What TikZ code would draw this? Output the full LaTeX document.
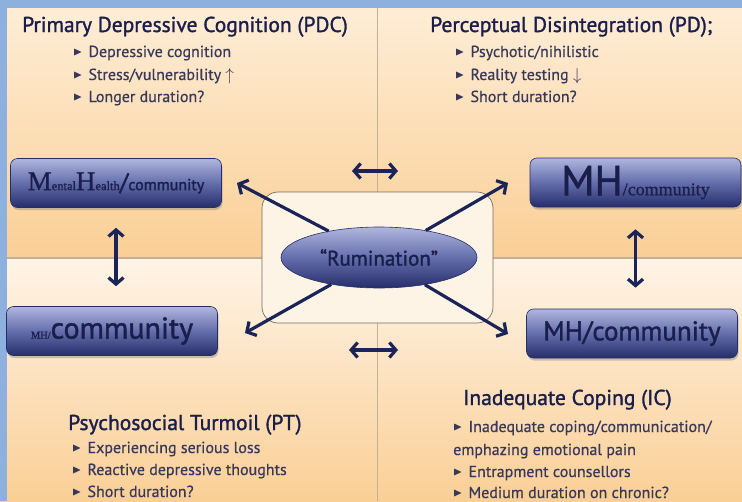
\documentclass[tikz,border=0pt]{standalone}
\usepackage{amssymb}
\usepackage{fontspec}
\setmainfont{PT Sans}
\newfontfamily\headfont[FakeBold=1.4]{PT Sans}
\newfontfamily\itemfont[FakeBold=0.6]{PT Sans}
\newfontfamily\boxfont[FakeBold=1.5]{PT Sans}
\newfontfamily\capfont[FakeBold=0.9]{Liberation Serif}
\usetikzlibrary{arrows.meta,shadows,shapes.geometric}

\definecolor{navy}{RGB}{26,30,74}
\definecolor{itemtext}{RGB}{56,56,90}
\definecolor{arrowblue}{RGB}{27,36,88}
\definecolor{boxtop}{RGB}{176,182,222}
\definecolor{boxmid}{RGB}{100,110,172}
\definecolor{boxbot}{RGB}{38,46,106}
\definecolor{peachlight}{RGB}{254,237,214}
\definecolor{peachdeep}{RGB}{250,207,150}
\definecolor{stripblue}{RGB}{142,176,222}
\definecolor{divline}{RGB}{196,176,150}
\definecolor{panelfill}{RGB}{254,244,230}

\newcommand{\bul}{\raisebox{1.5pt}{\scalebox{0.75}{$\blacktriangleright$}}\hspace{6pt}}
\newcommand{\fs}[1]{\fontsize{#1}{#1}\selectfont}

\tikzset{
  mhbox/.style={rounded corners=7pt, draw=boxbot, line width=0.6pt,
    top color=boxtop, bottom color=boxbot, middle color=boxmid,
    minimum width=211pt, minimum height=49pt, inner sep=0pt, text=navy,
    drop shadow={shadow xshift=1pt, shadow yshift=-2.5pt, opacity=0.4}},
  title/.style={anchor=base west, inner sep=0pt, text=navy, font=\headfont\fs{21.5}},
  item/.style={anchor=base west, inner sep=0pt, text=itemtext, font=\itemfont\fs{16}},
  arr/.style={draw=arrowblue, line width=3.2pt,
    -{Straight Barb[length=7pt,width=16pt]}},
  dbl/.style={draw=arrowblue, line width=3.2pt,
    {Straight Barb[length=6.5pt,width=15pt]}-{Straight Barb[length=6.5pt,width=15pt]}}
}

\begin{document}
\begin{tikzpicture}[x=1pt,y=1pt]
\useasboundingbox (0,0) rectangle (742,-501);

% background quadrants
\fill[top color=peachlight, bottom color=peachdeep] (0,-8) rectangle (742,-258);
\fill[top color=peachlight!60!white, bottom color=peachdeep] (0,-258) rectangle (742,-501);
\fill[stripblue] (0,0) rectangle (742,-8);
\fill[stripblue] (0,0) rectangle (7,-501);
\draw[divline, line width=1pt] (377,-8) -- (377,-501);
\draw[divline, line width=1.2pt] (7,-258) -- (742,-258);

% quadrant texts
\node[title] (pdc) at (22,-32) {Primary Depressive Cognition (PDC)};
\node[item] (pdc1) at (73,-57) {\bul Depressive cognition};
\node[item] (pdc2) at (73,-80) {\bul Stress/vulnerability $\uparrow$};
\node[item] (pdc3) at (73,-102) {\bul Longer duration?};

\node[title] (pd) at (430,-32) {Perceptual Disintegration (PD);};
\node[item] (pd1) at (455,-57) {\bul Psychotic/nihilistic};
\node[item] (pd2) at (455,-80) {\bul Reality testing $\downarrow$};
\node[item] (pd3) at (455,-102) {\bul Short duration?};

\node[title] (pt) at (68,-430) {Psychosocial Turmoil (PT)};
\node[item] (pt1) at (72,-453) {\bul Experiencing serious loss};
\node[item] (pt2) at (72,-475) {\bul Reactive depressive thoughts};
\node[item] (pt3) at (72,-497) {\bul Short duration?};

\node[title] (ic) at (463,-405) {Inadequate Coping (IC)};
\node[item] (ic1) at (453,-432) {\bul Inadequate coping/communication/};
\node[item] (ic2) at (453,-455) {emphazing emotional pain};
\node[item] (ic3) at (453,-477) {\bul Entrapment counsellors};
\node[item] (ic4) at (453,-498) {\bul Medium duration on chronic?};

% centre
\node[rounded corners=16pt, draw=divline!60!black, line width=0.7pt, fill=panelfill,
  minimum width=231pt, minimum height=131pt] (panel) at (377.5,-257.5) {};
\node[ellipse, draw=boxbot, line width=0.6pt, top color=boxtop, bottom color=boxbot,
  middle color=boxmid, minimum width=196pt, minimum height=61pt, inner sep=0pt,
  text=navy, font=\boxfont\fs{21}] (rum) at (379,-257.5) {“Rumination”};

% boxes
\node[mhbox] (mhA) at (116,-183)
  {{\capfont\fs{27}M{\fs{12.5}ental}H{\fs{12.5}ealth}}{\boxfont\fs{24}/}{\boxfont\fs{16}community}};
\node[mhbox] (mhB) at (635.5,-182.5) {{\boxfont\fs{42}MH}{\capfont\fs{18}/community}};
\node[mhbox] (mhC) at (112,-331) {{\capfont\fs{10.5}MH/}{\boxfont\fs{30}community}};
\node[mhbox] (mhD) at (632,-333.5) {\boxfont\fs{27}MH/community};

% arrows
\coordinate (tipA) at (237,-183);
\coordinate (tipB) at (508,-183);
\coordinate (tipC) at (245,-333);
\coordinate (tipD) at (508,-334);
\draw[arr] (rum) -- (tipA);
\draw[arr] (rum) -- (tipB);
\draw[arr] (rum) -- (tipC);
\draw[arr] (rum) -- (tipD);

\draw[dbl, shorten <=20pt, shorten >=20pt] (mhA.south) -- (mhA.south |- mhC.north);
\draw[dbl, shorten <=22pt, shorten >=21pt] (mhB.south) -- (mhB.south |- mhD.north);

\coordinate (hA1) at (352,-171);
\coordinate (hA2) at (398,-171);
\coordinate (hB1) at (349,-350);
\coordinate (hB2) at (398,-350);
\draw[dbl] (hA1) -- (hA2);
\draw[dbl] (hB1) -- (hB2);
\end{tikzpicture}
\end{document}
